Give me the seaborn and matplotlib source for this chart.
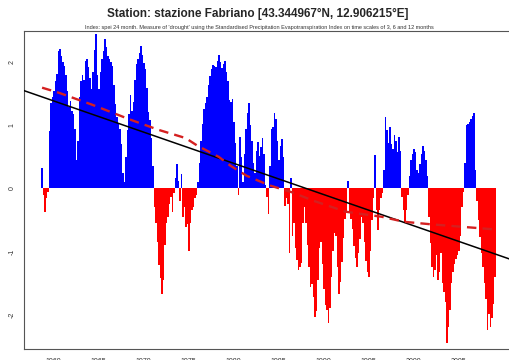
import numpy as np
import pandas as pd
import matplotlib
matplotlib.use("Agg")
import matplotlib.pyplot as plt
import seaborn as sns

# SPEI-24 series, one value every two months starting October 1958
start_year = 1958.75
step_years = 1 / 6
spei_24 = [
    0.33, -0.10, -0.38, -0.15, -0.05, 0.91, 1.36, 1.45, 1.55, 1.70,
    1.81, 2.19, 2.21, 2.10, 2.00, 1.95, 1.80, 1.55, 1.29, 1.39,
    1.23, 1.18, 0.95, 0.45, 0.75, 1.45, 1.70, 1.80, 1.72, 2.03,
    2.05, 1.93, 1.75, 1.58, 1.85, 2.20, 2.45, 1.80, 1.58, 1.85,
    2.05, 2.18, 2.38, 2.25, 2.10, 2.06, 2.00, 1.95, 1.65, 1.34,
    1.13, 1.03, 0.95, 0.70, 0.25, 0.10, 0.50, 0.92, 1.18, 1.48,
    1.23, 1.38, 1.72, 1.98, 2.06, 2.15, 2.26, 2.12, 1.99, 1.90,
    1.60, 1.22, 1.08, 0.80, 0.35, -0.30, -0.55, -0.85, -1.22, -1.42,
    -1.68, -1.45, -0.90, -0.55, -0.46, -0.25, -0.14, -0.38, -0.08, 0.17,
    0.39, 0.12, -0.20, 0.23, -0.46, -0.30, -0.62, -0.57, -0.99, -0.55,
    -0.35, -0.30, -0.15, -0.10, 0.10, 0.40, 0.75, 1.02, 1.26, 1.35,
    1.45, 1.65, 1.79, 1.90, 1.96, 1.94, 1.93, 2.02, 2.12, 2.00,
    1.92, 1.97, 2.02, 1.85, 1.70, 1.40, 1.38, 1.42, 1.05, 0.72,
    0.35, -0.10, 0.81, 0.50, 0.10, 0.55, 0.95, 1.20, 1.35, 1.00,
    0.76, 0.40, 0.25, 0.60, 0.74, 0.52, 0.65, 0.80, 0.55, 0.05,
    -0.14, -0.41, 0.35, 0.95, 0.98, 1.20, 1.10, 0.75, 0.45, 0.68,
    0.79, 0.50, -0.28, -0.15, -0.25, -1.03, 0.16, -0.75, -0.55, -0.95,
    -1.14, -1.30, -1.24, -1.19, -0.55, -0.30, -0.55, -0.90, -1.25, -1.56,
    -1.51, -1.72, -2.04, -1.95, -1.45, -0.95, -0.85, -1.20, -1.60, -1.85,
    -1.93, -2.14, -1.90, -1.40, -1.00, -0.70, -0.75, -1.25, -1.68, -1.48,
    -1.17, -0.78, -0.48, -0.36, 0.12, -0.38, -0.48, -0.65, -0.92, -1.10,
    -1.24, -1.03, -0.80, -0.45, -0.55, -0.85, -1.15, -1.33, -1.40, -1.00,
    -0.50, -0.15, 0.53, -0.34, -0.66, -0.35, -0.15, -0.08, 0.30, 1.14,
    0.93, 0.72, 0.98, 0.70, 0.62, 0.85, 0.75, 0.58, 0.82, 0.60,
    -0.13, -0.34, -0.55, -0.34, -0.10, 0.20, 0.45, 0.55, 0.63, 0.58,
    0.29, 0.24, 0.38, 0.55, 0.68, 0.60, 0.45, 0.20, -0.45, -0.87,
    -1.24, -1.40, -1.30, -1.05, -1.46, -1.32, -1.03, -1.50, -1.65, -1.80,
    -2.45, -2.20, -1.93, -1.50, -1.32, -1.20, -1.12, -1.06, -1.00, -0.75,
    -0.30, -0.05, 0.40, 1.00, 1.03, 1.06, 1.10, 1.15, 1.19, 0.30,
    -0.20, -0.50, -0.77, -1.03, -1.25, -1.50, -1.75, -2.25, -2.00, -2.20,
    -2.05, -1.83, -1.40,
]

# Smoothed curve (dashed) through the series
smooth_years = [1958.75, 1960.6, 1964.3, 1968.6, 1971.7, 1974.7, 1976.0, 1978.4,
                1979.7, 1981.5, 1984.0, 1986.5, 1989.0, 1992.5, 1996.5, 1999.0,
                2002.0, 2005.5, 2009.0]
smooth_vals = [1.60, 1.52, 1.33, 1.09, 0.93, 0.80, 0.68, 0.50,
               0.36, 0.20, 0.05, -0.06, -0.20, -0.37, -0.45, -0.53,
               -0.57, -0.61, -0.65]

# Linear trend, given by two points on the line
trend_years = [1956.8, 2010.7]
trend_vals = [1.55, -1.12]

year_ticks = [1960, 1965, 1970, 1975, 1980, 1985, 1990, 1995, 2000, 2005]
value_ticks = [-2, -1, 0, 1, 2]

title = "Station: stazione Fabriano [43.344967°N, 12.906215°E]"
subtitle = ("Index: spei 24 month. Measure of 'drought' using the Standardised "
            "Precipitation Evapotranspiration Index on time scales of 3, 6 and 12 months")

sns.set_style("white")
plt.rcParams["font.family"] = ["Liberation Sans", "DejaVu Sans"]

t = start_year + step_years * np.arange(len(spei_24))
df = pd.DataFrame({"year": np.round(t, 4), "spei": spei_24})
df["sign"] = np.where(df["spei"] >= 0, "wet", "dry")

fig = plt.figure(figsize=(5.1, 3.6), dpi=100)
ax = fig.add_axes([24 / 510, 11 / 360, 489 / 510, 318 / 360])

sns.barplot(data=df, x="year", y="spei", hue="sign", native_scale=True,
            palette={"wet": "#0000FF", "dry": "#FF0000"}, saturation=1,
            dodge=False, width=1.0, errorbar=None, linewidth=0,
            legend=False, ax=ax)

ax.axline((trend_years[0], trend_vals[0]), (trend_years[1], trend_vals[1]),
          color="black", linewidth=1.1, zorder=4)
sns.lineplot(x=smooth_years, y=smooth_vals, color="#D42020", linewidth=1.7,
             linestyle=(0, (4, 2.6)), ax=ax, zorder=5)

ax.set_xlim(1956.74, 2011.1)
ax.set_ylim(-2.55, 2.5)
ax.set_xticks(year_ticks)
ax.set_xticklabels([str(y) for y in year_ticks])
ax.set_yticks(value_ticks)
ax.set_yticklabels([str(v) for v in value_ticks])
ax.set_xlabel("")
ax.set_ylabel("")
ax.tick_params(axis="both", direction="out", length=3.6, width=0.7,
               color="#555555", labelsize=5, labelcolor="#333333")
ax.tick_params(axis="x", pad=2.6)
ax.tick_params(axis="y", pad=2.5)
plt.setp(ax.get_yticklabels(), rotation=90, va="center")
for s in ax.spines.values():
    s.set_color("#555555")
    s.set_linewidth(0.8)

fig.text(0.506, 1 - 14 / 360, title, ha="center", va="center",
         fontsize=8.5, fontweight="bold")
fig.text(0.509, 1 - 27 / 360, subtitle, ha="center", va="center",
         fontsize=4, color="#333333")

fig.savefig("out.png", dpi=100)
